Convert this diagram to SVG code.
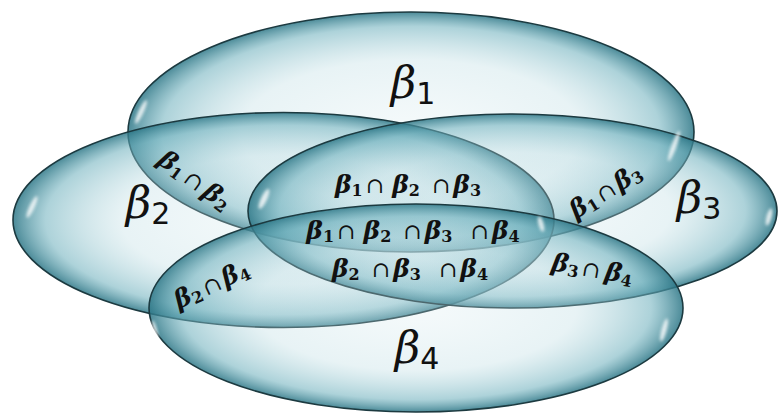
<svg xmlns="http://www.w3.org/2000/svg" width="779" height="418" viewBox="0 0 779 418">
<defs>
<radialGradient id="bub" cx="50%" cy="50%" r="50%">
<stop offset="0%" stop-color="#d8ebef" stop-opacity="0.25"/>
<stop offset="60%" stop-color="#b6d9e0" stop-opacity="0.32"/>
<stop offset="88%" stop-color="#6aaebb" stop-opacity="0.55"/>
<stop offset="100%" stop-color="#2c7686" stop-opacity="0.85"/>
</radialGradient>
<filter id="blur" x="-50%" y="-50%" width="200%" height="200%"><feGaussianBlur stdDeviation="1.6"/></filter>
</defs>
<style>
.set{fill:url(#bub);stroke:#1c3a40;stroke-width:1.6}
.hl{fill:#ffffff;opacity:0.8;filter:url(#blur)}
.big{font-family:"DejaVu Serif","Liberation Serif",serif;font-style:italic;font-size:44px;fill:#111}
.big .s{font-family:"DejaVu Sans","Liberation Sans",sans-serif;font-style:normal;font-size:30px}
.lab{font-family:"DejaVu Serif","Liberation Serif",serif;font-style:italic;font-weight:bold;font-size:25px;fill:#111}
.lab .s{font-size:16px;font-style:normal}
.lab .c{font-weight:normal;font-style:normal;font-size:22px}
</style>
<rect width="779" height="418" fill="#ffffff"/>
<g id="beta1"><ellipse class="set" cx="411" cy="132" rx="283" ry="120"/></g>
<g id="beta2"><ellipse class="set" cx="283.5" cy="220" rx="270.5" ry="107.5"/></g>
<g id="beta3"><ellipse class="set" cx="512.5" cy="211" rx="264.5" ry="97"/></g>
<g id="beta4"><ellipse class="set" cx="416" cy="308" rx="267" ry="104"/></g>
<g id="highlights">
<ellipse class="hl" cx="141" cy="112" rx="2.5" ry="13" transform="rotate(25 141 112)"/>
<ellipse class="hl" cx="674" cy="146" rx="2.5" ry="16" transform="rotate(20 674 146)"/>
<ellipse class="hl" cx="32" cy="207" rx="2.5" ry="12" transform="rotate(25 32 207)"/>
<ellipse class="hl" cx="769" cy="217" rx="2.5" ry="9" transform="rotate(15 769 217)"/>
<ellipse class="hl" cx="664" cy="330" rx="2.5" ry="12" transform="rotate(15 664 330)"/>
<ellipse class="hl" cx="264" cy="199" rx="3" ry="11" transform="rotate(25 264 199)"/>
<ellipse class="hl" cx="541" cy="224" rx="2.5" ry="8" transform="rotate(-15 541 224)"/>
<ellipse class="hl" cx="155" cy="330" rx="2" ry="10" transform="rotate(-15 155 330)"/>
</g>
<g id="labels">
<text class="big" x="413" y="98" text-anchor="middle">β<tspan class="s" dy="6">1</tspan></text>
<text class="big" x="148" y="218" text-anchor="middle">β<tspan class="s" dy="6">2</tspan></text>
<text class="big" x="699" y="213" text-anchor="middle">β<tspan class="s" dy="6">3</tspan></text>
<text class="big" x="417" y="363" text-anchor="middle">β<tspan class="s" dy="6">4</tspan></text>
<text class="lab" x="408" y="193" text-anchor="middle">β<tspan class="s" dy="3">1</tspan><tspan class="c" dx="3" dy="-3">∩</tspan><tspan dx="8">β</tspan><tspan class="s" dy="3">2</tspan><tspan class="c" dx="12" dy="-3">∩</tspan><tspan dx="3">β</tspan><tspan class="s" dy="3">3</tspan></text>
<text class="lab" x="413" y="239" text-anchor="middle">β<tspan class="s" dy="3">1</tspan><tspan class="c" dx="3" dy="-3">∩</tspan><tspan dx="8">β</tspan><tspan class="s" dy="3">2</tspan><tspan class="c" dx="12" dy="-3">∩</tspan><tspan dx="3">β</tspan><tspan class="s" dy="3">3</tspan><tspan class="c" dx="18" dy="-3">∩</tspan><tspan dx="3">β</tspan><tspan class="s" dy="3">4</tspan></text>
<text class="lab" x="410" y="277" text-anchor="middle">β<tspan class="s" dy="3">2</tspan><tspan class="c" dx="12" dy="-3">∩</tspan><tspan dx="3">β</tspan><tspan class="s" dy="3">3</tspan><tspan class="c" dx="18" dy="-3">∩</tspan><tspan dx="3">β</tspan><tspan class="s" dy="3">4</tspan></text>
<text class="lab" x="0" y="0" text-anchor="middle" transform="translate(190,187) rotate(36)">β<tspan class="s" dy="3">1</tspan><tspan class="c" dx="4" dy="-3">∩</tspan><tspan dx="5">β</tspan><tspan class="s" dy="3">2</tspan></text>
<text class="lab" x="0" y="0" text-anchor="middle" transform="translate(610,198) rotate(-32)">β<tspan class="s" dy="3">1</tspan><tspan class="c" dx="3" dy="-3">∩</tspan><tspan dx="3">β</tspan><tspan class="s" dy="3">3</tspan></text>
<text class="lab" x="0" y="0" text-anchor="middle" transform="translate(215,292) rotate(-25)">β<tspan class="s" dy="3">2</tspan><tspan class="c" dx="3" dy="-3">∩</tspan><tspan dx="3">β</tspan><tspan class="s" dy="3">4</tspan></text>
<text class="lab" x="0" y="0" text-anchor="middle" transform="translate(591,277) rotate(10)">β<tspan class="s" dy="3">3</tspan><tspan class="c" dx="3" dy="-3">∩</tspan><tspan dx="5">β</tspan><tspan class="s" dy="3">4</tspan></text>
</g>
</svg>
